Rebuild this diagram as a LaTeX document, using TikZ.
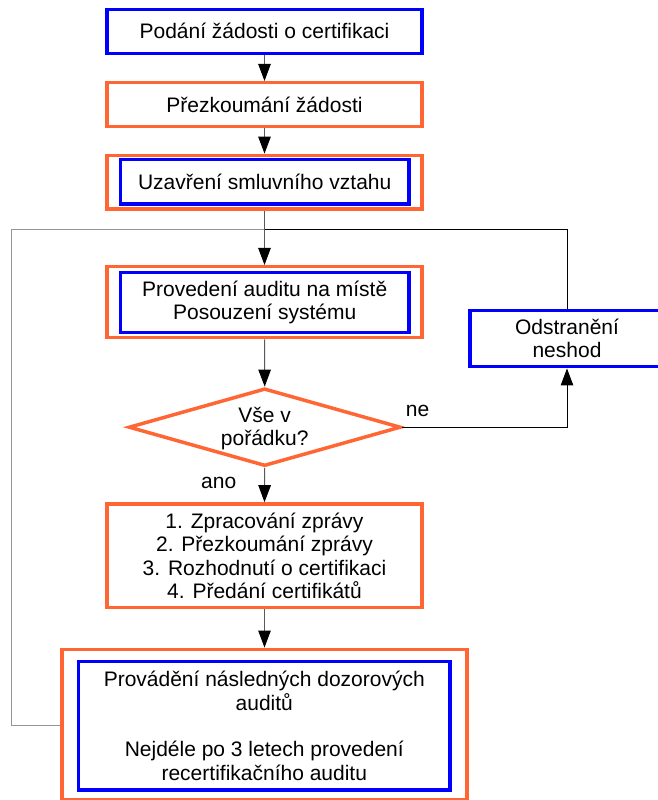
\documentclass[tikz,border=0pt]{standalone}
\usepackage{fontspec}
\setmainfont{Liberation Sans}
\usetikzlibrary{arrows.meta,shapes.geometric}
\definecolor{orng}{RGB}{255,102,51}
\definecolor{blu}{RGB}{0,0,255}
\definecolor{loopgray}{RGB}{150,150,150}
\begin{document}
\begin{tikzpicture}[x=1pt,y=-1pt,
  every node/.style={font=\fontsize{21}{23.3}\selectfont, align=center, inner sep=0pt},
  obox/.style={draw=orng, line width=3.5pt, fill=white, rectangle},
  bbox/.style={draw=blu, line width=3.5pt, rectangle},
  conn/.style={draw=black!65, line width=1pt},
  arr/.style={conn, -{Triangle[length=17pt,width=12.5pt,color=black]}},
  lbl/.style={font=\fontsize{21}{23.3}\selectfont}
]
\useasboundingbox (0,0) rectangle (658,800);
\fill[white] (0,0) rectangle (658,800);

% boxes
\node[bbox, minimum width=315pt, minimum height=44pt] (b1) at (264.5,31.3) {Podání žádosti o certifikaci};
\node[obox, minimum width=315pt, minimum height=44pt] (b2) at (264.5,104.7) {Přezkoumání žádosti};
\node[obox, minimum width=315pt, minimum height=53.7pt] (b3o) at (264.5,182.2) {};
\node[bbox, minimum width=288.6pt, minimum height=44.7pt] (b3) at (264.7,181.7) {Uzavření smluvního vztahu};
\node[obox, minimum width=315pt, minimum height=71pt] (b4o) at (264.5,302.2) {};
\node[bbox, minimum width=288.6pt, minimum height=60pt] (b4) at (264.7,302.3) {Provedení auditu na místě\\Posouzení systému};
\node[bbox, minimum width=194pt, minimum height=56pt] (ods) at (567,338.7) {Odstranění\\neshod};
\node[draw=orng, line width=3.5pt, diamond, minimum width=272pt, minimum height=77.7pt] (dia) at (264.7,427.2) {};
\node (diat) at (264.7,428.5) {Vše v\\pořádku?};
\node[obox, minimum width=315pt, minimum height=103.7pt] (b5) at (264.5,555.8) {1. Zpracování zprávy\\2. Přezkoumání zprávy\\3. Rozhodnutí o certifikaci\\4. Předání certifikátů};
\node[obox, minimum width=405pt, minimum height=150pt] (b6o) at (264.5,724.3) {};
\node[bbox, minimum width=371.5pt, minimum height=128.3pt] (b6) at (264.3,725.8) {Provádění následných dozorových\\auditů\\[23.3pt]Nejdéle po 3 letech provedení\\recertifikačního auditu};

% labels
\node[lbl] (ne) at (417.5,410.7) {ne};
\node[lbl] (ano) at (218.7,483) {ano};

% loop junction
\coordinate (j) at (264.5,229.3);
\coordinate (jr) at (567,229.3);
\coordinate (jl) at (11.7,229.3);
\coordinate (bl) at (11.7,725.7);

% loops
\draw[line width=1pt, loopgray] (b6o.west |- bl) -- (bl) -- (jl) -- (j);
\draw[line width=1pt, black] (ods.north) -- (jr) -- (j);

% arrows
\draw[arr] (b1.south) -- (b2.north);
\draw[arr] (b2.south) -- (b3o.north);
\draw[arr] (b3o.south) -- (b4o.north);
\draw[arr] (b4o.south) -- (dia.north);
\draw[arr] (dia.south) -- (b5.north);
\draw[arr] (b5.south) -- (b6o.north);
\draw[arr, black] (dia.east) -| (ods.south);
\end{tikzpicture}
\end{document}
